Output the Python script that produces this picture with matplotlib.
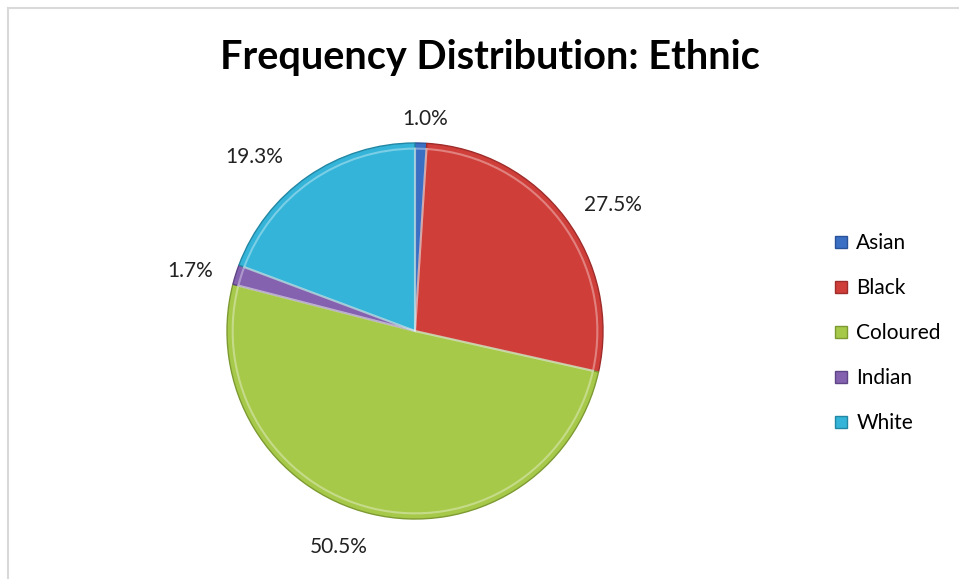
import numpy as np
import matplotlib.pyplot as plt
from matplotlib.lines import Line2D

categories = ["Asian", "Black", "Coloured", "Indian", "White"]
percent = [1.0, 27.5, 50.5, 1.7, 19.3]
colors = ["#3a6fc4", "#d03e3a", "#a6c94a", "#8462b0", "#33b4d8"]
edges = ["#2a5298", "#9e2c2a", "#7d9a32", "#5f4585", "#2387a4"]

plt.rcParams['font.family'] = ['Lato', 'DejaVu Sans']

fig = plt.figure(figsize=(9.59, 5.79), dpi=100)
ax = fig.add_axes([227 / 959, 1 - 519 / 579, 376 / 959, 376 / 579])

wedges, texts, autotexts = ax.pie(
    percent, colors=colors, startangle=90, counterclock=False,
    autopct="%1.1f%%", pctdistance=1.23,
    textprops=dict(fontsize=15, color="#222222"))
for w, ec in zip(wedges, edges):
    w.set_edgecolor(ec)
    w.set_linewidth(1.0)
# faint inner ring to hint at the bevel
ax.pie(percent, colors=["none"] * 5, startangle=90, counterclock=False,
       radius=0.97, wedgeprops=dict(linewidth=1.5, edgecolor=(1, 1, 1, 0.35)))

# label placement (Excel "best fit" look)
dist = [1.13, 1.25, 1.22, 1.24, 1.26]
shift = [-0.9, -4.4, -5.8, 2.5, 7.9]
for t, w, d, s in zip(autotexts, wedges, dist, shift):
    a = np.deg2rad((w.theta1 + w.theta2) / 2 + s)
    t.set_position((d * np.cos(a), d * np.sin(a)))
    t.set_clip_on(False)

ax.set_xlim(-1, 1)
ax.set_ylim(-1, 1)
ax.set_aspect("equal")

fig.text(490 / 959, 1 - 58 / 579, "Frequency Distribution: Ethnic",
         ha="center", va="center", fontsize=28.5, fontweight="bold")

handles = [Line2D([], [], marker="s", linestyle="none", markersize=9,
                  markerfacecolor=c, markeredgecolor=e) for c, e in zip(colors, edges)]
fig.legend(handles, categories, loc="center left",
           bbox_to_anchor=(824 / 959, 1 - 333 / 579), frameon=False,
           fontsize=15, labelspacing=1.2, handlelength=0.8, handletextpad=0.35,
           borderaxespad=0)

fig.add_artist(Line2D([8 / 959, 1], [1 - 8 / 579] * 2, color="#d9d9d9", lw=1.5))
fig.add_artist(Line2D([8 / 959] * 2, [0, 1 - 8 / 579], color="#d9d9d9", lw=1.5))

fig.savefig("out.png")
